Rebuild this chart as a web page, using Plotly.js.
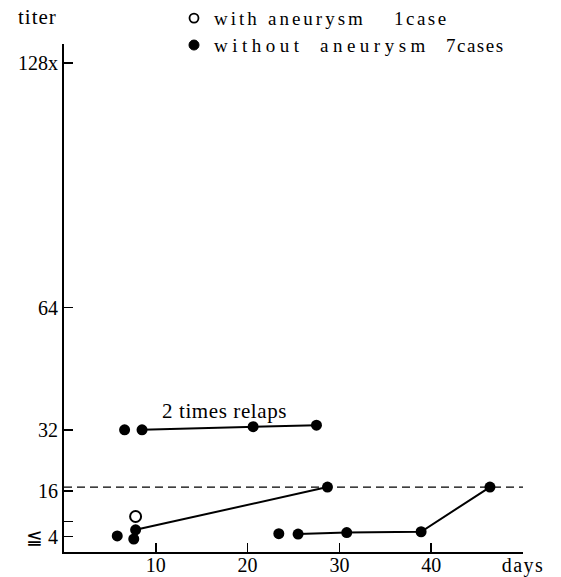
<!DOCTYPE html>
<html>
<head>
<meta charset="utf-8">
<script src="https://cdn.plot.ly/plotly-3.0.1.min.js"></script>
<style>html,body{margin:0;padding:0;background:#fff;}</style>
</head>
<body>
<div id="chart" style="width:561px;height:577px;"></div>
<script>
// ---- data ----
const relapseDays   = [8.5, 20.6, 27.5];
const relapseTiters = [32, 32.8, 33.2];
const riseDays      = [7.8, 28.7];
const riseTiters    = [5.8, 17];
const lateDays      = [25.5, 30.8, 38.9, 46.4];
const lateTiters    = [4.7, 5.1, 5.3, 17];
const singleDays    = [6.6, 5.8, 7.6, 23.4];
const singleTiters  = [32, 4.2, 3.4, 4.8];
const aneurysmDays   = [7.8];
const aneurysmTiters = [9.3];
const refLineDays   = [0, 50];
const refLineTiters = [17, 17];
const yTickVals  = [4, 8, 16, 32, 64, 128];
const yTickText  = ['≦ 4', '', '16', '32', '64', '128x'];
const xTickVals  = [10, 20, 30, 40, 50];
const xTickText  = ['10', '20', '30', '40', '<span style="letter-spacing:1.5px">days</span>'];

const FONT = 'serif';
const black = '#000';
const line = {color: black, width: 2};
const mk = {color: black, size: 11};

const traces = [
  {x: refLineDays, y: refLineTiters, mode: 'lines', line: {color: black, width: 1.3, dash: '8px,5px'}, hoverinfo: 'skip'},
  {x: relapseDays, y: relapseTiters, mode: 'lines+markers', line: line, marker: mk},
  {x: riseDays, y: riseTiters, mode: 'lines+markers', line: line, marker: mk},
  {x: lateDays, y: lateTiters, mode: 'lines+markers', line: line, marker: mk},
  {x: singleDays, y: singleTiters, mode: 'markers', marker: mk},
  {x: aneurysmDays, y: aneurysmTiters, mode: 'markers', marker: {symbol: 'circle-open', size: 11, color: black, line: {width: 2, color: black}}}
];

const ls = (s, t) => '<span style="letter-spacing:' + s + 'px">' + t + '</span>';
// legend word positions (pixels from left) converted to paper coords
const px = p => (p - 64) / 459;
const legendWord = (text, xPix, yPaper, sp) => ({
  xref: 'paper', yref: 'paper', x: px(xPix), y: yPaper, text: ls(sp, text),
  showarrow: false, xanchor: 'left', yanchor: 'middle', font: {family: FONT, size: 19}
});
const row1 = 1.051, row2 = 0.998;

const layout = {
  width: 561, height: 577,
  margin: {l: 64, r: 38, t: 44, b: 25, pad: 0},
  paper_bgcolor: '#fff', plot_bgcolor: '#fff',
  showlegend: false,
  font: {family: FONT, color: black, size: 20},
  xaxis: {
    range: [0, 50], tickvals: xTickVals, ticktext: xTickText,
    ticks: 'inside', ticklen: 9, tickwidth: 1.5, tickcolor: black,
    showline: true, linewidth: 2, linecolor: black,
    showgrid: false, zeroline: false, automargin: false,
    ticklabelstandoff: -6,
    tickfont: {family: FONT, size: 20, color: black}
  },
  yaxis: {
    range: [0, 133], tickvals: yTickVals, ticktext: yTickText,
    ticks: 'inside', ticklen: 9, tickwidth: 1.5, tickcolor: black,
    showline: true, linewidth: 2, linecolor: black,
    showgrid: false, zeroline: false, automargin: false,
    tickfont: {family: FONT, size: 20, color: black}
  },
  annotations: [
    {xref: 'paper', yref: 'paper', x: px(37), y: 1.053, text: ls(1, 'titer'), showarrow: false, xanchor: 'center', yanchor: 'middle', font: {family: FONT, size: 21}},
    {x: 17.5, y: 36.9, text: ls(0.6, '2 times relaps'), showarrow: false, xanchor: 'center', yanchor: 'middle', font: {family: FONT, size: 21}},
    legendWord('with', 212, row1, 3),
    legendWord('aneurysm', 266, row1, 3),
    legendWord('1case', 392, row1, 2.5),
    legendWord('without', 212, row2, 4.5),
    legendWord('aneurysm', 318, row2, 4.5),
    legendWord('7cases', 444, row2, 1.5)
  ],
  shapes: [
    {type: 'circle', xref: 'paper', yref: 'paper', xsizemode: 'pixel', ysizemode: 'pixel', xanchor: px(194), yanchor: row1, x0: -4.5, x1: 4.5, y0: -4.5, y1: 4.5, line: {color: black, width: 1.8}},
    {type: 'circle', xref: 'paper', yref: 'paper', xsizemode: 'pixel', ysizemode: 'pixel', xanchor: px(194), yanchor: row2, x0: -5, x1: 5, y0: -5, y1: 5, line: {color: black, width: 1}, fillcolor: black}
  ]
};

Plotly.newPlot('chart', traces, layout, {displayModeBar: false, staticPlot: true});
</script>
</body>
</html>
